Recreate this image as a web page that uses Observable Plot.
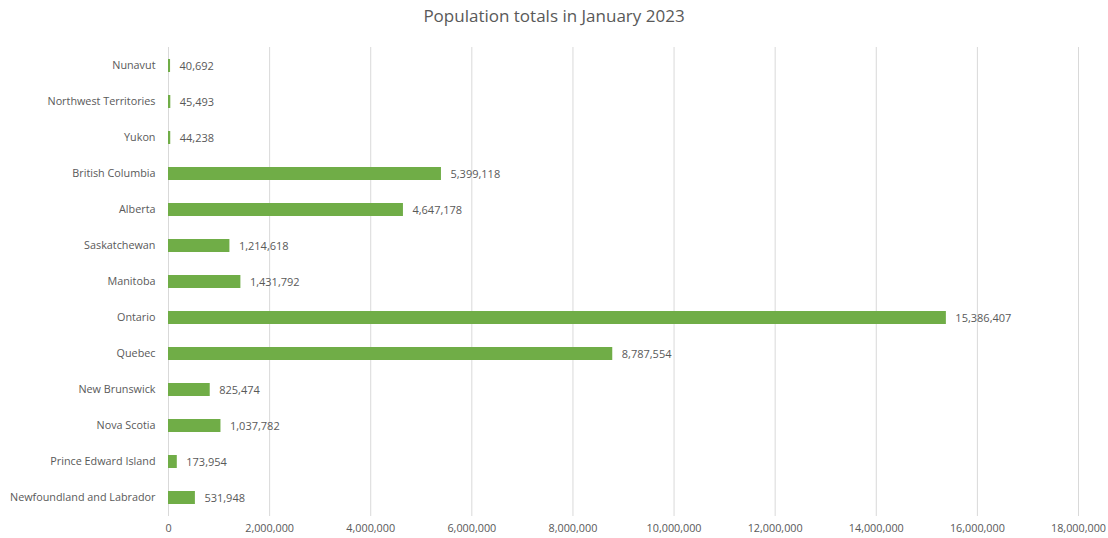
<!DOCTYPE html>
<html>
<head>
<meta charset="utf-8">
<script src="https://cdn.jsdelivr.net/npm/d3@7"></script>
<script src="https://cdn.jsdelivr.net/npm/@observablehq/plot@0.6"></script>
<style>
  body { margin: 0; background: #fff; font-family: "Open Sans", sans-serif; }
  #title { height: 32px; line-height: 31px; text-align: center; font-size: 17px; color: #595959; }
</style>
</head>
<body>
<div id="title">Population totals in January 2023</div>
<div id="chart"></div>
<script>
const provinces = ["Nunavut", "Northwest Territories", "Yukon", "British Columbia", "Alberta", "Saskatchewan", "Manitoba", "Ontario", "Quebec", "New Brunswick", "Nova Scotia", "Prince Edward Island", "Newfoundland and Labrador"];
const population = [40692, 45493, 44238, 5399118, 4647178, 1214618, 1431792, 15386407, 8787554, 825474, 1037782, 173954, 531948];
const xTicks = [0, 2000000, 4000000, 6000000, 8000000, 10000000, 12000000, 14000000, 16000000, 18000000];

const data = provinces.map((p, i) => ({province: p, value: population[i]}));
const fmt = d3.format(",");

const chart = Plot.plot({
  width: 1108,
  height: 506,
  marginTop: 15,
  marginBottom: 22,
  marginLeft: 168,
  marginRight: 30,
  style: {fontFamily: "Open Sans, sans-serif", fontSize: "10.8px", color: "#595959", background: "#fff"},
  x: {domain: [0, 18000000], ticks: xTicks, tickFormat: fmt, label: null, tickSize: 0, tickPadding: 8},
  y: {domain: provinces, label: null, tickSize: 0, tickPadding: 13, paddingInner: 0.63, paddingOuter: 0.315},
  marks: [
    Plot.gridX(xTicks, {stroke: "#d9d9d9", strokeOpacity: 1, strokeWidth: 1}),
    Plot.barX(data, {x: "value", y: "province", fill: "#70AD47"}),
    Plot.text(data, {x: "value", y: "province", text: d => fmt(d.value), textAnchor: "start", dx: 9, fill: "#595959", fontSize: 11})
  ]
});
document.getElementById("chart").appendChild(chart);
</script>
</body>
</html>
